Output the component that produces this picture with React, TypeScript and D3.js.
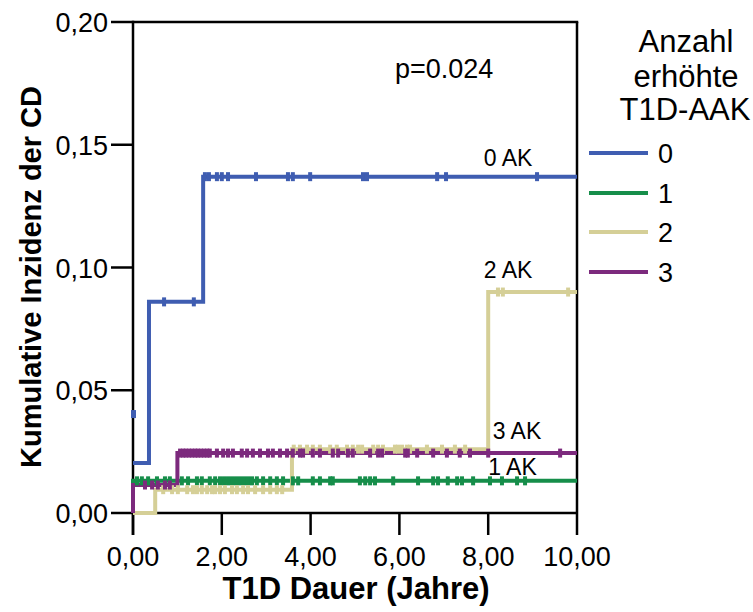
import React from "react";
import * as d3 from "d3";

// Cumulative incidence of CD by number of elevated T1D autoantibodies
const xTicks = [0, 2, 4, 6, 8, 10];
const yTicks = [0, 0.05, 0.1, 0.15, 0.2];
const groups = ["0", "1", "2", "3"];
const groupLabels = ["0 AK", "1 AK", "2 AK", "3 AK"];
const colors = ["#3f5db1", "#168e4a", "#d5cf97", "#7c2a7d"];

// step curves: [time in years, cumulative incidence]
const steps0: [number, number][] = [[0, 0.0204], [0.36, 0.086], [1.58, 0.137], [10, 0.137]];
const steps1: [number, number][] = [[0, 0], [0, 0.0131], [10, 0.0131]];
const steps2: [number, number][] = [[0, 0], [0.5, 0.0095], [3.58, 0.026], [8.0, 0.09], [10, 0.09]];
const steps3: [number, number][] = [[0, 0], [0, 0.0114], [1.0, 0.0244], [10, 0.0244]];

// censored observations (years)
const censor0 = [0.7, 1.37, 1.62, 1.71, 1.89, 2.0, 2.14, 2.77, 3.49, 3.6, 3.99, 5.18, 5.27, 6.85, 7.05, 9.1];
const censor1 = [0.09, 0.2, 0.34, 0.54, 0.72, 0.83, 1.1, 1.24, 1.44, 1.55, 1.73, 1.85, 1.96, 2.05, 2.14, 2.23, 2.32, 2.41, 2.5, 2.59, 2.68, 2.79, 2.93, 3.09, 3.24, 3.38, 3.6, 3.72, 4.05, 4.21, 4.44, 4.5, 5.11, 5.23, 5.34, 5.45, 5.86, 6.42, 6.76, 6.87, 7.09, 7.3, 7.41, 7.66, 8.04, 8.31, 8.65, 8.83];
const censor2 = [0.68, 0.88, 1.01, 1.22, 1.35, 1.44, 1.55, 1.67, 1.78, 1.85, 1.96, 2.07, 2.23, 2.34, 2.48, 2.59, 2.75, 2.93, 3.09, 3.24, 3.36, 3.62, 3.76, 3.92, 4.05, 4.21, 4.44, 4.59, 4.82, 4.95, 5.07, 5.16, 5.41, 5.52, 5.63, 5.9, 5.97, 6.06, 6.17, 6.24, 6.62, 6.96, 7.25, 7.48, 8.22, 8.33, 9.8];
const censor3 = [0.27, 0.43, 0.56, 0.72, 0.83, 1.06, 1.13, 1.19, 1.26, 1.33, 1.4, 1.46, 1.53, 1.6, 1.67, 1.73, 1.89, 2.03, 2.14, 2.25, 2.45, 2.57, 2.7, 2.86, 3.04, 3.15, 3.31, 3.47, 3.6, 3.76, 3.83, 4.05, 4.21, 4.5, 4.62, 4.84, 4.95, 5.34, 5.52, 5.61, 6.13, 6.19, 6.4, 6.76, 7.07, 7.36, 7.59, 8.0, 9.62];

// extra marker for group 0 at time zero
const startMark0: [number, number] = [0, 0.0403];

const pValue = "p=0.024";

const allSteps = [steps0, steps1, steps2, steps3];
const allCensor = [censor0, censor1, censor2, censor3];

const FONT = "'Liberation Sans', Arial, Helvetica, sans-serif";

function valueAt(steps: [number, number][], t: number) {
  let v = steps[0][1];
  for (const [st, sv] of steps) {
    if (st <= t) v = sv;
  }
  return v;
}

export default function App() {
  const W = 753;
  const H = 612;
  const x = d3.scaleLinear().domain([0, 10]).range([133, 577]);
  const y = d3.scaleLinear().domain([0, 0.2]).range([513, 22]);
  const fmt = (v: number) => d3.format(".2f")(v).replace(".", ",");
  const line = d3
    .line<[number, number]>()
    .x((d) => x(d[0]))
    .y((d) => y(d[1]))
    .curve(d3.curveStepAfter);

  const tickLen = 22;
  const axisW = 2.5;

  // label positions near the right end of each curve
  const labelPos: { t: number; v: number; dy: number }[] = [
    { t: 7.9, v: steps0[steps0.length - 1][1], dy: -11 },
    { t: 8.0, v: steps1[steps1.length - 1][1], dy: -6 },
    { t: 7.9, v: steps2[steps2.length - 1][1], dy: -14 },
    { t: 8.1, v: steps3[steps3.length - 1][1], dy: -14 },
  ];

  const legendY = [153, 193, 232, 272];

  return (
    <svg
      width={W}
      height={H}
      style={{ position: "absolute", left: 0, top: 0, background: "#fff" }}
      fontFamily={FONT}
    >
      <rect x={0} y={0} width={W} height={H} fill="#fff" />

      {/* frame and axes */}
      <g stroke="#000" strokeWidth={axisW} fill="none">
        <line x1={x(0)} x2={x(0)} y1={y(0.2) - axisW / 2} y2={y(0) + tickLen} />
        <line x1={x(0)} x2={x(10) + axisW / 2} y1={y(0.2)} y2={y(0.2)} />
        <line x1={x(10)} x2={x(10)} y1={y(0.2)} y2={y(0)} />
        <line x1={x(0)} x2={x(10)} y1={y(0)} y2={y(0)} />
        {yTicks.map((v) => (
          <line key={"yt" + v} x1={x(0) - tickLen} x2={x(0)} y1={y(v)} y2={y(v)} />
        ))}
        {xTicks.map((v) => (
          <line key={"xt" + v} x1={x(v)} x2={x(v)} y1={y(0)} y2={y(0) + tickLen} />
        ))}
      </g>

      {/* curves */}
      {allSteps.map((s, i) => (
        <path key={"c" + i} d={line(s) || ""} fill="none" stroke={colors[i]} strokeWidth={4} />
      ))}
      {allCensor.map((cs, i) =>
        cs.map((t, j) => (
          <rect
            key={"m" + i + "-" + j}
            x={x(t) - 2}
            y={y(valueAt(allSteps[i], t)) - 4.5}
            width={4}
            height={9}
            fill={colors[i]}
          />
        ))
      )}
      <rect x={x(startMark0[0]) - 2} y={y(startMark0[1]) - 4} width={5} height={8} fill={colors[0]} />

      {/* tick labels */}
      {yTicks.map((v) => (
        <text key={"yl" + v} x={x(0) - tickLen - 3} y={y(v) + 10} fontSize={27} textAnchor="end" fill="#000">
          {fmt(v)}
        </text>
      ))}
      {xTicks.map((v) => (
        <text key={"xl" + v} x={x(v)} y={566} fontSize={27} textAnchor="middle" fill="#000">
          {fmt(v)}
        </text>
      ))}

      {/* axis titles */}
      <text x={356} y={599} fontSize={31} fontWeight="bold" textAnchor="middle" fill="#000">
        T1D Dauer (Jahre)
      </text>
      <text
        transform={`translate(41, 277) rotate(-90)`}
        fontSize={29}
        fontWeight="bold"
        textAnchor="middle"
        fill="#000"
      >
        Kumulative Inzidenz der CD
      </text>

      <text x={395} y={78} fontSize={27} fill="#000">
        {pValue}
      </text>

      {/* curve labels */}
      {labelPos.map((p, i) => (
        <text key={"gl" + i} x={x(p.t)} y={y(p.v) + p.dy} fontSize={23} fill="#000">
          {groupLabels[i]}
        </text>
      ))}

      {/* legend */}
      <g fontSize={31} textAnchor="middle" fill="#000">
        <text x={686} y={52}>Anzahl</text>
        <text x={686} y={87}>erhöhte</text>
        <text x={685} y={120}>T1D-AAK</text>
      </g>
      {groups.map((g, i) => (
        <g key={"lg" + g}>
          <line x1={589} x2={648} y1={legendY[i]} y2={legendY[i]} stroke={colors[i]} strokeWidth={4} />
          <text x={658} y={legendY[i] + 10} fontSize={27} fill="#000">
            {g}
          </text>
        </g>
      ))}
    </svg>
  );
}
